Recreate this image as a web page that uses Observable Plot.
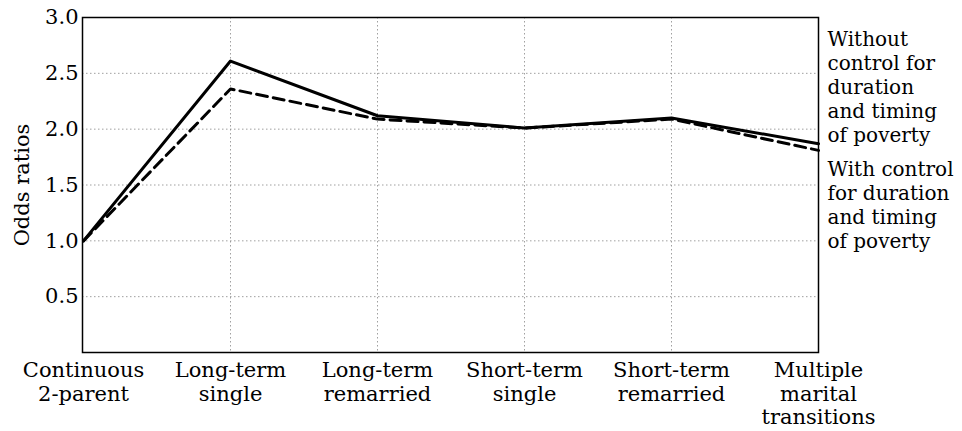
<!DOCTYPE html>
<html><head><meta charset="utf-8">
<script src="https://cdn.jsdelivr.net/npm/d3@7"></script>
<script src="https://cdn.jsdelivr.net/npm/@observablehq/plot@0.6"></script>
<style>body{margin:0;background:#fff}</style>
</head><body><div id="chart"></div>
<script>
const categories = ["Continuous\n2-parent","Long-term\nsingle","Long-term\nremarried","Short-term\nsingle","Short-term\nremarried","Multiple\nmarital\ntransitions"];
const withoutControl = [1.0, 2.61, 2.12, 2.01, 2.10, 1.87];
const withControl = [1.0, 2.36, 2.09, 2.01, 2.09, 1.81];
const seriesNames = ["Without\ncontrol for\nduration\nand timing\nof poverty", "With control\nfor duration\nand timing\nof poverty"];
const yTicks = [0.5, 1.0, 1.5, 2.0, 2.5, 3.0];
const gridYTicks = [0.5, 1.0, 1.5, 2.0, 2.5];

const rows = [];
categories.forEach((c, i) => {
  rows.push({cat: c, v: withoutControl[i], s: seriesNames[0]});
  rows.push({cat: c, v: withControl[i], s: seriesNames[1]});
});
const last = categories.length - 1;
const labelRows = [
  {cat: categories[last], v: withoutControl[last], s: seriesNames[0]},
  {cat: categories[last], v: withControl[last], s: seriesNames[1]}
];

const chart = Plot.plot({
  width: 962, height: 431,
  marginLeft: 82, marginRight: 144, marginTop: 17, marginBottom: 79,
  style: {fontFamily: "'DejaVu Serif', serif", fontSize: "21px", color: "#000", background: "#fff"},
  x: {type: "point", domain: categories, padding: 0},
  y: {domain: [0, 3]},
  marks: [
    Plot.gridY(gridYTicks, {stroke: "#888", strokeOpacity: 0.8, strokeDasharray: "1.5,2.5"}),
    Plot.gridX(categories.slice(1, last), {stroke: "#888", strokeOpacity: 0.8, strokeDasharray: "1.5,2.5"}),
    Plot.axisY(yTicks, {tickSize: 0, tickPadding: 4, tickFormat: d3.format(".1f"), fontSize: 21,
      label: "Odds ratios", labelAnchor: "center", labelArrow: "none", labelOffset: 68}),
    Plot.axisX({tickSize: 0, tickPadding: 8, fontSize: 21, lineHeight: 1.12, label: null}),
    Plot.line(rows.filter(d => d.s === seriesNames[0]), {x: "cat", y: "v", stroke: "#000", strokeWidth: 3}),
    Plot.line(rows.filter(d => d.s === seriesNames[1]), {x: "cat", y: "v", stroke: "#000", strokeWidth: 3, strokeDasharray: "11,6"}),
    Plot.text(labelRows.slice(0, 1), {x: "cat", y: "v", text: "s", textAnchor: "start", lineAnchor: "bottom", dx: 9, dy: -2, fontSize: 20, lineHeight: 1.2, fill: "#000"}),
    Plot.text(labelRows.slice(1), {x: "cat", y: "v", text: "s", textAnchor: "start", lineAnchor: "top", dx: 9, dy: 9, fontSize: 20, lineHeight: 1.2, fill: "#000"}),
    Plot.frame({stroke: "#000", strokeWidth: 1.5})
  ]
});
document.getElementById("chart").appendChild(chart);
</script></body></html>
